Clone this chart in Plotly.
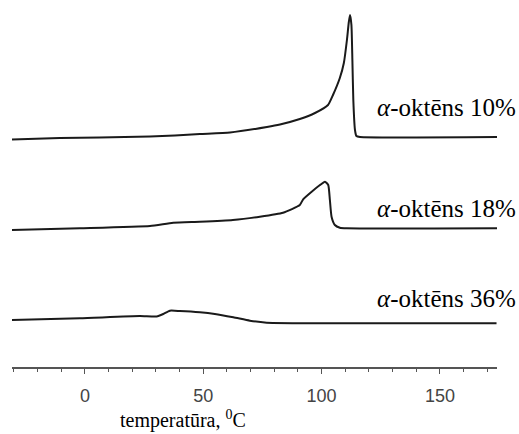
import plotly.graph_objects as go

# Temperature (°C) and signal (arbitrary units, curves stacked)
t_10 = [-30.8, -10.6, 6.3, 27.5, 38.0, 48.6, 61.3, 76.9, 82.4, 90.8, 97.2, 102.7, 104.8,
        107.7, 109.4, 110.7, 111.5, 112.0, 112.6, 113.0, 113.4, 114.1, 114.7, 116.2, 174.1]
s_10 = [22.75, 22.9, 22.95, 23.05, 23.15, 23.3, 23.45, 24.0, 24.25, 24.8, 25.4, 26.2, 27.2,
        28.9, 30.4, 32.7, 34.5, 35.2, 34.2, 30.7, 26.7, 23.7, 23.1, 23.0, 23.0]

t_18 = [-30.8, -2.1, 27.5, 37.3, 48.6, 62.5, 73.9, 83.7, 90.8, 92.2, 95.8, 99.3, 101.4,
        102.8, 103.5, 104.2, 105.6, 107.7, 110.6, 174.1]
s_18 = [13.7, 13.87, 14.1, 14.43, 14.53, 14.7, 15.03, 15.43, 16.2, 16.77, 17.53, 18.2, 18.53,
        18.2, 16.7, 15.03, 14.2, 13.93, 13.87, 13.87]

t_36 = [-30.8, -2.1, 23.2, 30.3, 33.1, 35.9, 40.1, 48.6, 54.9, 62.7, 69.7, 76.8, 104.9, 173.9]
s_36 = [4.7, 4.87, 5.1, 5.05, 5.3, 5.63, 5.6, 5.47, 5.3, 4.97, 4.63, 4.43, 4.37, 4.37]

labels = ["10%", "18%", "36%"]
label_y = [26.0, 15.9, 6.9]

series = [(t_10, s_10), (t_18, s_18), (t_36, s_36)]

fig = go.Figure()
for (t, s) in series:
    fig.add_trace(go.Scatter(x=t, y=s, mode="lines",
                             line=dict(color="#1a1a1a", width=2, shape="spline", smoothing=0.5),
                             showlegend=False, hoverinfo="skip"))

for lab, ly in zip(labels, label_y):
    fig.add_annotation(x=1.043, y=ly, xref="paper", yref="y", xanchor="right", yanchor="middle",
                       text="<i>α</i>-oktēns " + lab, showarrow=False,
                       font=dict(family="Liberation Serif", size=25, color="#000"))

fig.add_annotation(x=0.3526, y=-0.1826, xref="paper", yref="paper", xanchor="center",
                   yanchor="bottom", text="temperatūra, <sup>0</sup>C", showarrow=False,
                   font=dict(family="Liberation Serif", size=20, color="#000"))

fig.update_layout(
    width=519, height=434,
    margin=dict(l=12, r=22, t=0, b=67),
    paper_bgcolor="white", plot_bgcolor="white",
    xaxis=dict(range=[-30.8, 174.1], showline=True, linecolor="#555", linewidth=2,
               showgrid=False, zeroline=False, ticks="outside", ticklen=5, tickwidth=1,
               tickcolor="#555", tick0=0, dtick=50, ticklabelstandoff=6,
               tickfont=dict(family="Arial, Liberation Sans", size=18, color="#444"),
               minor=dict(ticks="outside", ticklen=3, tickcolor="#555", dtick=10, showgrid=False)),
    yaxis=dict(range=[0, 36.7], visible=False, showgrid=False, zeroline=False),
)

fig.write_html("out.html")
